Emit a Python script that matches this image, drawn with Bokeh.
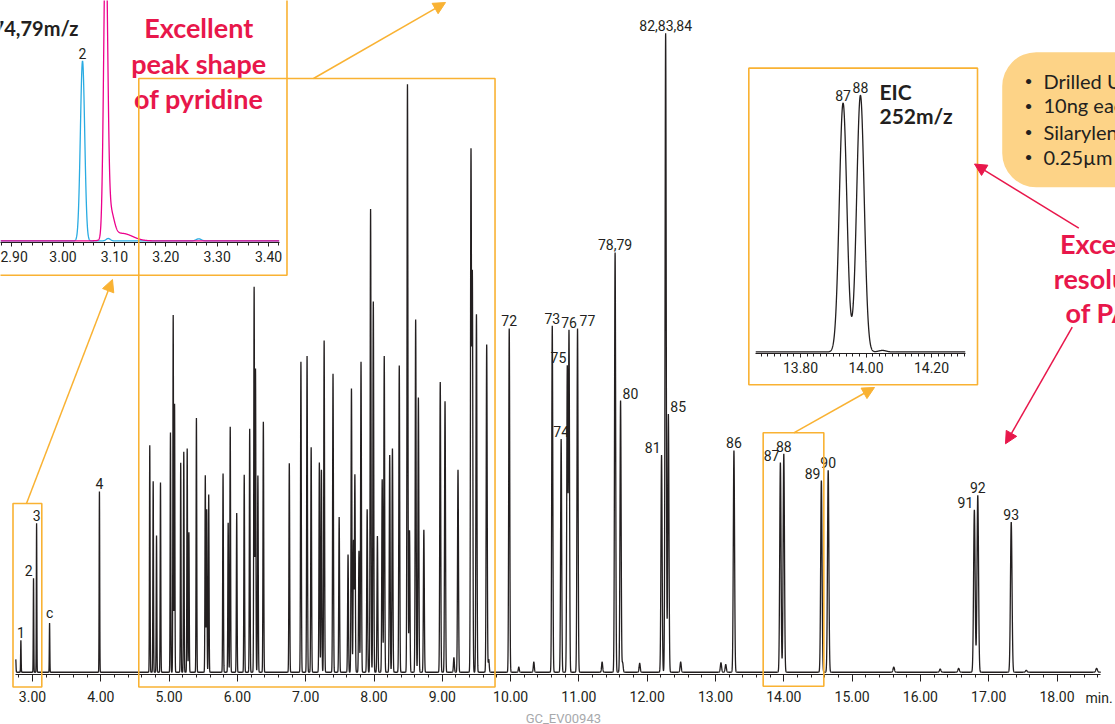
import numpy as np
from bokeh.plotting import figure
from bokeh.models import (Range1d, FixedTicker, PrintfTickFormatter, BoxAnnotation,
                          Arrow, NormalHead, Label, ColumnDataSource)
from bokeh.core.properties import value
from bokeh.embed import file_html
from bokeh.resources import INLINE

# ---------------- data ----------------
# main chromatogram: retention time (min) and peak height (% of tallest)
peak_times = [2.755, 2.83, 3.015, 3.06, 3.25, 3.98,
              4.717, 4.767, 4.816, 4.874, 5.02, 5.06, 5.08, 5.17, 5.215, 5.265, 5.29,
              5.40, 5.53, 5.55, 5.58, 5.79, 5.865, 5.895, 5.99, 6.10, 6.18, 6.245,
              6.265, 6.30, 6.38, 6.76, 6.93, 7.02, 7.08, 7.20, 7.23, 7.27, 7.40, 7.49,
              7.62, 7.67, 7.70, 7.72, 7.78, 7.81, 7.90, 7.95, 7.99, 8.05, 8.12, 8.15,
              8.23, 8.27, 8.37, 8.49, 8.52, 8.61, 8.65, 8.73, 8.97, 9.04, 9.17, 9.23,
              9.42, 9.44, 9.50, 9.65, 9.68,
              9.98, 10.12, 10.34, 10.61, 10.74, 10.83, 10.855, 10.98, 11.34, 11.53,
              11.61, 11.64, 11.89, 12.21, 12.27, 12.31, 12.49, 13.08, 13.15, 13.27,
              13.95, 14.00, 14.55, 14.65, 15.61, 16.29, 16.56, 16.79, 16.84, 17.33,
              17.55, 18.58]
peak_heights = [2.0, 5.0, 14.7, 23.3, 7.7, 28.3,
                35.5, 29.9, 21.4, 29.7, 37.5, 55.9, 42.0, 32.8, 34.5, 35.0, 21.9,
                39.8, 30.8, 25.5, 27.8, 31.1, 23.4, 38.4, 24.9, 30.9, 38.1, 60.3,
                47.5, 30.8, 39.2, 32.7, 48.6, 49.5, 35.2, 32.8, 31.7, 51.9, 46.7, 24.3,
                18.4, 44.4, 20.6, 30.9, 19.0, 48.6, 25.5, 72.5, 58.0, 21.3, 30.2, 49.5,
                34.0, 35.0, 48.0, 92.0, 22.2, 55.2, 43.0, 22.3, 45.4, 42.4, 2.3, 31.7,
                80.9, 61.5, 56.0, 51.3, 2.0,
                53.8, 0.8, 1.6, 54.2, 36.5, 47.7, 53.3, 53.8, 1.6, 65.7,
                42.5, 1.5, 1.4, 34.0, 100.0, 40.4, 1.6, 1.5, 1.2, 34.7,
                32.8, 34.2, 30.0, 31.6, 0.8, 0.5, 0.6, 25.4, 27.7, 23.5,
                0.3, 0.6]

label_text = ["1", "2", "3", "c", "4", "72", "73", "74", "75", "76", "77", "78,79", "80",
              "81", "82,83,84", "85", "86", "87", "88", "89", "90", "91", "92", "93"]
label_time = [2.83, 3.015, 3.06, 3.25, 3.98, 9.98, 10.61, 10.74, 10.83, 10.855, 10.98,
              11.53, 11.61, 12.21, 12.27, 12.31, 13.27, 13.95, 14.00, 14.55, 14.65,
              16.79, 16.84, 17.33]
tick_values = [3, 4, 5, 6, 7, 8, 9, 10, 11, 12, 13, 14, 15, 16, 17, 18]

# inset 1: extracted ion chromatograms 74 / 79 m/z
blue_times = [3.038, 3.088, 3.264]
blue_heights = [60.0, 0.8, 0.7]
blue_sigmas = [0.0042, 0.004, 0.005]
magenta_times = [3.083, 3.092, 3.115]
magenta_heights = [100.0, 9.0, 2.5]
magenta_sigmas = [0.0038, 0.007, 0.02]
inset1_ticks = [2.9, 3.0, 3.1, 3.2, 3.3, 3.4]

# inset 2: EIC 252 m/z
eic_times = [13.93, 13.983, 14.05]
eic_heights = [96.5, 99.5, 0.6]
eic_sigma = 0.0115
inset2_ticks = [13.8, 14.0, 14.2]

bullets = ["Drilled Uniliner", "10ng each", "Silarylene phase", "0.25\u00b5m film"]

# ---------------- style ----------------
INK = "#231f20"
ORANGE = "#F9B233"
CRIMSON = "#E8174B"
BLUE = "#29ABE2"
MAGENTA = "#EC008C"
NUM_FONT = "Roboto"
BOLD_FONT = "Lato"


def trace(grid, times, heights, sigmas):
    y = np.zeros_like(grid)
    for t, h, s in zip(times, heights, sigmas):
        y += h * np.exp(-0.5 * ((grid - t) / s) ** 2)
    return y


def plain(fig):
    fig.xgrid.visible = False
    fig.ygrid.visible = False
    fig.outline_line_color = None


def place(left, top, z):
    return {"position": "absolute", "left": f"{left}px", "top": f"{top}px",
            "z-index": str(z)}


def style_axis(ax, ticks, minor, size, tick_out, standoff):
    ax.ticker = FixedTicker(ticks=ticks, minor_ticks=minor)
    ax.formatter = PrintfTickFormatter(format="%.2f")
    ax.axis_line_color = INK
    ax.axis_line_width = 1.2
    ax.major_tick_line_color = INK
    ax.minor_tick_line_color = INK
    ax.major_tick_out = tick_out
    ax.major_tick_in = 0
    ax.minor_tick_out = 3
    ax.minor_tick_in = 0
    ax.major_label_standoff = standoff
    ax.major_label_text_font = NUM_FONT
    ax.major_label_text_font_size = size
    ax.major_label_text_color = INK


# ---------------- main figure ----------------
p = figure(width=1115, height=716, x_range=Range1d(2.6486, 18.8565),
           y_range=Range1d(-0.156, 104.07), y_axis_type=None,
           output_backend="svg", toolbar_location=None,
           min_border_left=8, min_border_right=0, min_border_top=8, min_border_bottom=42,
           styles=place(0, 0, 1))
plain(p)
style_axis(p.xaxis[0], tick_values, list(np.round(np.arange(2.8, 18.61, 0.2), 2)),
           "14px", 7, 9)
p.xaxis.bounds = (2.751, 18.64)

grid = np.arange(2.755, 18.64, 0.001)
sig = [0.0035 + 0.00055 * max(t - 3.0, 0.3) for t in peak_times]
signal = trace(grid, peak_times, peak_heights, sig) + 0.2
p.line(grid, signal, line_color=INK, line_width=1.3)

align_map = {"2": "right", "75": "right", "81": "right", "87": "right", "89": "right",
             "91": "right", "77": "left", "80": "left", "85": "left"}
lab_y = []
for t in label_time:
    m = (grid > t - 0.004) & (grid < t + 0.004)
    lab_y.append(float(signal[m].max()))
aligns = [align_map.get(s, "center") for s in label_text]
xoffs = [-1 if a == "right" else (2 if a == "left" else 0) for a in aligns]
src = ColumnDataSource(dict(x=label_time, y=lab_y, text=label_text, align=aligns, xo=xoffs))
p.text(x="x", y="y", text="text", source=src, text_align="align", x_offset="xo",
       y_offset=-2, text_baseline="bottom", text_font=value(NUM_FONT),
       text_font_size="14px", text_color=INK)

# ---------------- inset 1 (pyridine) ----------------
i1 = figure(width=284, height=273, x_range=Range1d(2.87840, 3.42121),
            y_range=Range1d(-0.333, 80.33), y_axis_type=None,
            output_backend="svg", toolbar_location=None,
            min_border_left=0, min_border_right=5, min_border_top=0, min_border_bottom=31,
            styles=place(0, 0, 5))
plain(i1)
style_axis(i1.xaxis[0], inset1_ticks, list(np.round(np.arange(2.88, 3.421, 0.02), 2)),
           "14px", 4, 4)

g1 = np.arange(2.8784, 3.4212, 0.0004)
blue = trace(g1, blue_times, blue_heights, blue_sigmas) + 0.2
mag = trace(g1, magenta_times, magenta_heights, magenta_sigmas) + 0.2
i1.line(g1, blue, line_color=BLUE, line_width=1.3)
i1.line(g1, mag, line_color=MAGENTA, line_width=1.3)
i1.text(x=[blue_times[0]], y=[float(blue.max())], text=["2"], text_align="center",
        text_baseline="bottom", y_offset=-2, text_font=value(NUM_FONT),
        text_font_size="14px", text_color=INK)
i1.text(x=[3.0302], y=[71.33], text=["EIC 74,79m/z"], text_align="right",
        text_baseline="middle", text_font=value(BOLD_FONT), text_font_style="bold",
        text_font_size="20px", text_color=INK)
i1.text(x=[3.2640] * 3, y=[71.33, 59.33, 47.67],
        text=["Excellent", "peak shape", "of pyridine"], text_align="center",
        text_baseline="middle", text_font=value(BOLD_FONT), text_font_style="bold",
        text_font_size="27px", text_color=CRIMSON)

# ---------------- inset 2 (EIC 252) ----------------
i2 = figure(width=226, height=314, x_range=Range1d(13.6626, 14.3038),
            y_range=Range1d(-0.194, 109.88), y_axis_type=None,
            output_backend="svg", toolbar_location=None,
            min_border_left=5, min_border_right=11, min_border_top=0, min_border_bottom=30,
            styles=place(750, 69, 5))
plain(i2)
style_axis(i2.xaxis[0], inset2_ticks, list(np.round(np.arange(13.68, 14.30, 0.02), 2)),
           "14px", 4, 4)

g2 = np.arange(13.6626, 14.3038, 0.0005)
eic = trace(g2, eic_times, eic_heights, [eic_sigma] * len(eic_times)) + 0.4
i2.line(g2, eic, line_color=INK, line_width=1.3)
e_lab_y = []
for t in eic_times[:2]:
    m = (g2 > t - 0.004) & (g2 < t + 0.004)
    e_lab_y.append(float(eic[m].max()))
i2.text(x=eic_times[:2], y=e_lab_y, text=["87", "88"], text_align="center",
        text_baseline="bottom", y_offset=-2, text_font=value(NUM_FONT),
        text_font_size="14px", text_color=INK)
i2.text(x=[14.0412, 14.0412], y=[101.36, 92.05], text=["EIC", "252m/z"],
        text_align="left", text_baseline="middle", text_font=value(BOLD_FONT),
        text_font_style="bold", text_font_size="21px", text_color=INK)

# ---------------- overlay: boxes, arrows, notes ----------------
ov = figure(width=1115, height=724, x_range=Range1d(2.53148, 18.8565),
            y_range=Range1d(-7.981, 105.32), x_axis_type=None, y_axis_type=None,
            output_backend="svg", toolbar_location=None,
            min_border_left=0, min_border_right=0, min_border_top=0, min_border_bottom=0,
            styles=place(0, 0, 10))
plain(ov)
ov.background_fill_alpha = 0
ov.border_fill_alpha = 0

for (l, r, t, b) in [(2.7145, 3.136, 26.6, -2.11), (4.556, 9.772, 93.11, -2.11),
                     (13.698, 14.586, 37.67, -1.99), (1.0, 6.726, 130.0, 62.33),
                     (13.488, 16.836, 94.73, 45.18)]:
    ov.add_layout(BoxAnnotation(left=l, right=r, top=t, bottom=b, fill_alpha=0,
                                line_color=ORANGE, line_alpha=1, line_width=1.6))

ov.add_layout(BoxAnnotation(left=17.198, right=22.0, top=97.23, bottom=76.10,
                            fill_color="#FDD387", fill_alpha=1, line_alpha=0,
                            border_radius=34))
for yv, txt in zip([92.8, 88.9, 84.8, 80.9], bullets):
    ov.add_layout(Label(x=17.583, y=yv, text="\u2022", text_align="center",
                        text_baseline="middle", text_font=BOLD_FONT,
                        text_font_size="14px", text_color=INK))
    ov.add_layout(Label(x=17.802, y=yv, text=txt, text_align="left",
                        text_baseline="middle", text_font=BOLD_FONT,
                        text_font_size="20px", text_color=INK))

for (x0, y0, x1, y1, c) in [(2.912, 26.6, 4.171, 61.66, ORANGE),
                            (7.114, 93.11, 9.047, 105.0, ORANGE),
                            (14.146, 37.67, 15.328, 44.76, ORANGE),
                            (18.319, 69.69, 16.792, 79.73, CRIMSON),
                            (18.223, 54.19, 17.246, 35.95, CRIMSON)]:
    ov.add_layout(Arrow(end=NormalHead(size=12, fill_color=c, line_color=c),
                        x_start=x0, y_start=y0, x_end=x1, y_end=y1,
                        line_color=c, line_width=1.5))

for yv, txt in zip([67.29, 61.81, 56.49], ["Excellent", "resolution", "of PAHs"]):
    ov.add_layout(Label(x=18.842, y=yv, text=txt, text_align="center",
                        text_baseline="middle", text_font=BOLD_FONT,
                        text_font_style="bold", text_font_size="27px",
                        text_color=CRIMSON))

ov.add_layout(Label(x=18.417, y=-3.9, text="min.", text_align="left",
                    text_baseline="middle", text_font=NUM_FONT,
                    text_font_size="14px", text_color=INK))
ov.add_layout(Label(x=10.772, y=-7.04, text="GC_EV00943", text_align="center",
                    text_baseline="middle", text_font=NUM_FONT,
                    text_font_size="13px", text_color="#A7A9AC"))

open("out.html", "w").write(file_html([p, i1, i2, ov], INLINE))
